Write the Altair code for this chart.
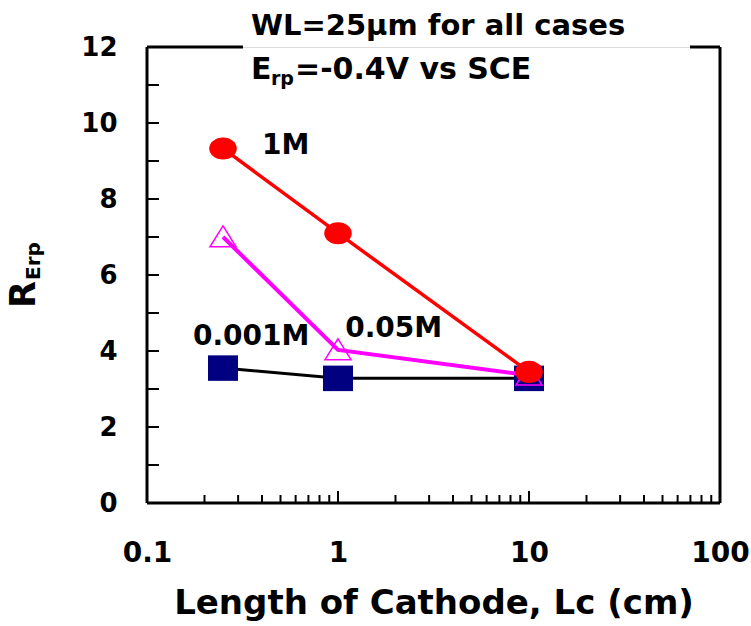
import altair as alt
import pandas as pd

# Cathode length (cm) and R_Erp for each electrolyte concentration
lc = [0.25, 1.0, 10.0]
r_1m = [9.33, 7.1, 3.45]
r_005m = [7.0, 4.03, 3.36]
r_0001m = [3.55, 3.28, 3.28]

# Series labels: text, anchor x (cm), anchor y
label_text = ["1M", "0.05M", "0.001M"]
label_x = [0.40, 1.09, 0.174]
label_y = [9.4, 4.58, 4.38]

# Tick positions
y_ticks = list(range(0, 13))
x_minor = [0.2, 0.3, 0.4, 0.5, 0.6, 0.7, 0.8, 0.9,
           2, 3, 4, 5, 6, 7, 8, 9,
           20, 30, 40, 50, 60, 70, 80, 90]
x_major = [1, 10]

W, H = 573, 456
FONT = "DejaVu Sans"

# Slightly wide marker outlines (unit-box SVG paths)
ELLIPSE = "M-1,0 A1,0.8 0 1,0 1,0 A1,0.8 0 1,0 -1,0 Z"
RECT = "M-1,-0.85 L1,-0.85 L1,0.85 L-1,0.85 Z"
TRI = "M0,-0.85 L1,0.75 L-1,0.75 Z"

df_1m = pd.DataFrame({"lc": lc, "r": r_1m})
df_005m = pd.DataFrame({"lc": lc, "r": r_005m})
df_0001m = pd.DataFrame({"lc": lc, "r": r_0001m})
df_lab = pd.DataFrame({"t": label_text, "lx": label_x, "ly": label_y})

xs = alt.Scale(type="log", domain=[0.1, 100], nice=False)
ys = alt.Scale(domain=[0, 12], nice=False, zero=False)

x_axis = alt.Axis(values=[0.1, 1, 10, 100], labelExpr="datum.value + ''",
                  title="Length of Cathode, Lc (cm)", grid=False, domain=False,
                  ticks=False, tickSize=0, labelFont=FONT, labelFontSize=28,
                  labelFontWeight="bold", labelColor="black", labelPadding=36,
                  titleFont=FONT, titleFontSize=34, titleFontWeight="bold",
                  titleColor="black", titlePadding=19, labelFlush=False)
y_axis = alt.Axis(values=[0, 2, 4, 6, 8, 10, 12], title=None, grid=False,
                  domain=False, ticks=False, tickSize=0, labelFont=FONT,
                  labelFontSize=26, labelFontWeight="bold", labelColor="black",
                  labelPadding=30)

X = alt.X("lc:Q", scale=xs, axis=x_axis)
Y = alt.Y("r:Q", scale=ys, axis=y_axis)
XP = alt.X("lc:Q", scale=xs)
YP = alt.Y("r:Q", scale=ys)

base = alt.Chart(df_0001m).mark_line(color="black", strokeWidth=3).encode(x=X, y=Y)
sq = alt.Chart(df_0001m).mark_point(shape=RECT, filled=True, color="#000080",
                                    size=900, opacity=1).encode(x=XP, y=YP)
mag = alt.Chart(df_005m).mark_line(color="#FF00FF", strokeWidth=4).encode(x=XP, y=YP)
tri = alt.Chart(df_005m).mark_point(shape=TRI, filled=False, color="#FF00FF",
                                    size=680, strokeWidth=1.5,
                                    opacity=1).encode(x=XP, y=YP)
red = alt.Chart(df_1m).mark_line(color="#FF0000", strokeWidth=3.5).encode(x=XP, y=YP)
circ = alt.Chart(df_1m).mark_point(shape=ELLIPSE, filled=True, color="#FF0000",
                                   size=760, opacity=1).encode(x=XP, y=YP)

labels = alt.Chart(df_lab).mark_text(align="left", baseline="middle", font=FONT,
                                     fontSize=28, fontWeight="bold",
                                     color="black").encode(
    x=alt.X("lx:Q", scale=xs), y=alt.Y("ly:Q", scale=ys), text="t:N")

# Inward ticks
yt = alt.Chart(pd.DataFrame({"v": y_ticks})).mark_rule(color="black", strokeWidth=2).encode(
    y=alt.Y("v:Q", scale=ys), x=alt.value(0), x2=alt.value(12))
xt_minor = alt.Chart(pd.DataFrame({"v": x_minor})).mark_rule(color="black", strokeWidth=2).encode(
    x=alt.X("v:Q", scale=xs), y=alt.value(H), y2=alt.value(H - 8))
xt_major = alt.Chart(pd.DataFrame({"v": x_major})).mark_rule(color="black", strokeWidth=2).encode(
    x=alt.X("v:Q", scale=xs), y=alt.value(H), y2=alt.value(H - 12))

# Plot frame (top edge is open behind the heading text)
frame_df = pd.DataFrame({"x1": [0, W, 0, 0, 543],
                         "x2": [0, W, W, 96, W],
                         "y1": [0, 0, H, 0, 0],
                         "y2": [H, H, H, 0, 0]})
frame = alt.Chart(frame_df).mark_rule(color="black", strokeWidth=3).encode(
    x=alt.X("x1:Q", scale=None), x2="x2:Q",
    y=alt.Y("y1:Q", scale=None), y2="y2:Q")


# Heading text and the subscripted y-axis title
def txt(s, x, y, size, angle=0, align="left"):
    return alt.Chart(pd.DataFrame({"s": [s]})).mark_text(
        align=align, baseline="alphabetic", font=FONT, fontSize=size,
        fontWeight="bold", color="black", angle=angle).encode(
        x=alt.value(x), y=alt.value(y), text="s:N")


head1 = txt("WL=25μm for all cases", 104, -12, 29)
head2a = txt("E", 104, 32, 30)
head2b = txt("rp", 124, 38, 19)
head2c = txt("=-0.4V vs SCE", 148, 32, 30)
ytitle_r = txt("R", -112, 261, 35, angle=270)
ytitle_s = txt("Erp", -107, 233, 20, angle=270)

chart = alt.layer(
    base, sq, mag, tri, red, circ, labels, yt, xt_minor, xt_major, frame,
    head1, head2a, head2b, head2c, ytitle_r, ytitle_s
).properties(
    width=W, height=H,
    autosize=alt.AutoSizeParams(type="none"),
    padding={"left": 147, "top": 47, "right": 31, "bottom": 123},
).configure_view(stroke=None).configure(background="white")

chart.save("out.html", embed_options={"renderer": "svg", "actions": False})
